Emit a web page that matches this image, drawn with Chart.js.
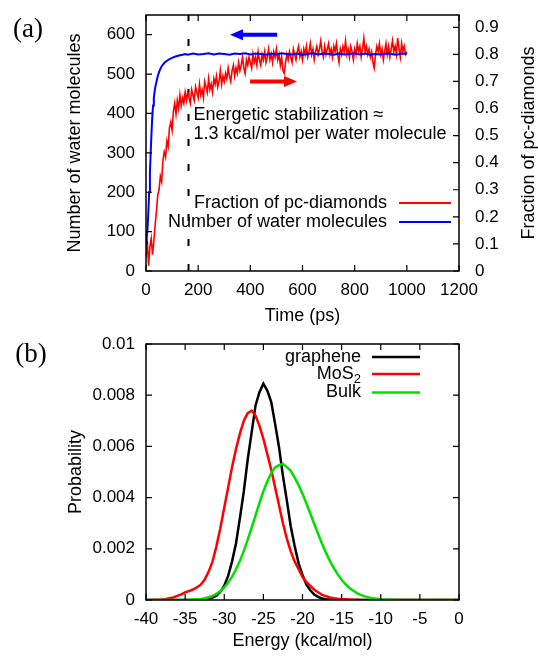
<!DOCTYPE html>
<html>
<head>
<meta charset="utf-8">
<script src="https://cdn.jsdelivr.net/npm/chart.js@4.4.1/dist/chart.umd.min.js"></script>
<style>
  html, body { margin: 0; padding: 0; background: #fff; }
  #wrap { position: relative; width: 538px; height: 656px; }
  canvas { position: absolute; left: 0; }
  #chartA { top: 0; }
  #chartB { top: 330px; }
</style>
</head>
<body>
<div id="wrap">
  <canvas id="chartA" width="538" height="330"></canvas>
  <canvas id="chartB" width="538" height="326"></canvas>
</div>
<script>
// ---- panel (a) data ----
const timeBlue = [0, 3, 6, 9, 12, 15, 18, 21, 24, 27, 30, 35, 40, 45, 50, 55, 60, 70, 80, 90, 100, 110, 120, 130, 140, 150, 160,
  180, 200, 220, 240, 260, 280, 300, 320, 340, 360, 380, 400, 420, 440, 460, 480, 500, 520, 540, 560, 580, 600,
  620, 640, 660, 680, 700, 720, 740, 760, 780, 800, 820, 840, 860, 880, 900, 920, 940, 960, 980, 1000];
const waterCount = [70, 85, 110, 150, 200, 250, 300, 350, 390, 420, 440, 465, 480, 495, 505, 513, 520, 528, 534, 538, 541, 544, 546, 548, 549, 551, 549,
  552, 550, 551, 553, 550, 552, 551, 549, 552, 551, 553, 550, 552, 551, 549, 552, 550, 553, 551, 550, 552, 549,
  551, 553, 550, 552, 551, 549, 552, 550, 551, 553, 550, 552, 549, 551, 550, 552, 551, 549, 552, 551];

const timeRed = [
  0, 5, 10, 15, 20, 25, 30, 35, 40, 45, 50, 55, 60, 65, 70, 75, 80, 85, 90, 95,
  100, 105, 110, 115, 120, 125, 130, 135, 140, 145, 150, 155, 160, 165, 170, 175, 180, 185, 190, 195,
  200, 205, 210, 215, 220, 225, 230, 235, 240, 245, 250, 255, 260, 265, 270, 275, 280, 285, 290, 295,
  300, 305, 310, 315, 320, 325, 330, 335, 340, 345, 350, 355, 360, 365, 370, 375, 380, 385, 390, 395,
  400, 405, 410, 415, 420, 425, 430, 435, 440, 445, 450, 455, 460, 465, 470, 475, 480, 485, 490, 495,
  500, 505, 510, 515, 520, 525, 530, 535, 540, 545, 550, 555, 560, 565, 570, 575, 580, 585, 590, 595,
  600, 605, 610, 615, 620, 625, 630, 635, 640, 645, 650, 655, 660, 665, 670, 675, 680, 685, 690, 695,
  700, 705, 710, 715, 720, 725, 730, 735, 740, 745, 750, 755, 760, 765, 770, 775, 780, 785, 790, 795,
  800, 805, 810, 815, 820, 825, 830, 835, 840, 845, 850, 855, 860, 865, 870, 875, 880, 885, 890, 895,
  900, 905, 910, 915, 920, 925, 930, 935, 940, 945, 950, 955, 960, 965, 970, 975, 980, 985, 990, 995,
  1000];
const fraction = [
  0.05, 0.11, 0.02, 0.09, 0.12, 0.06, 0.11, 0.17, 0.22, 0.28, 0.30, 0.35, 0.33, 0.41, 0.44, 0.42, 0.48, 0.46, 0.53, 0.55,
  0.52, 0.59, 0.62, 0.58, 0.63, 0.60, 0.65, 0.61, 0.64, 0.62, 0.66,
  0.63, 0.66, 0.64, 0.62, 0.67, 0.65, 0.63, 0.68, 0.66, 0.64,
  0.69, 0.65, 0.67, 0.64, 0.70, 0.68, 0.66, 0.71, 0.67, 0.69,
  0.66, 0.71, 0.69, 0.72, 0.68, 0.70, 0.74, 0.69, 0.72, 0.70,
  0.73, 0.71, 0.75, 0.72, 0.70, 0.74, 0.76, 0.72, 0.75, 0.73,
  0.77, 0.74, 0.76, 0.79, 0.75, 0.73, 0.78, 0.76, 0.79, 0.77,
  0.75, 0.80, 0.77, 0.79, 0.76, 0.81, 0.78, 0.76, 0.80, 0.78,
  0.81, 0.77, 0.79, 0.82, 0.78, 0.80, 0.77, 0.81, 0.79, 0.82,
  0.78, 0.80, 0.76, 0.79, 0.74, 0.73, 0.77, 0.80, 0.78, 0.81,
  0.79, 0.77, 0.82, 0.80, 0.78, 0.81, 0.83, 0.79, 0.81, 0.78,
  0.82, 0.80, 0.83, 0.79, 0.81, 0.84, 0.80, 0.82, 0.78, 0.81,
  0.83, 0.80, 0.82, 0.85, 0.81, 0.79, 0.83, 0.80, 0.82, 0.84,
  0.80, 0.82, 0.79, 0.83, 0.81, 0.84, 0.80, 0.77, 0.82, 0.80,
  0.83, 0.81, 0.85, 0.80, 0.82, 0.79, 0.83, 0.81, 0.78, 0.82,
  0.80, 0.84, 0.81, 0.83, 0.79, 0.82, 0.86, 0.81, 0.83, 0.80,
  0.82, 0.79, 0.81, 0.77, 0.75, 0.80, 0.83, 0.81, 0.84, 0.80,
  0.82, 0.78, 0.81, 0.84, 0.80, 0.83, 0.79, 0.82, 0.85, 0.81,
  0.83, 0.80, 0.86, 0.82, 0.79, 0.84, 0.81, 0.83, 0.80, 0.81];

const stabilizationTime = 163;
const timeTicks = [0, 200, 400, 600, 800, 1000, 1200];
const waterTicks = [0, 100, 200, 300, 400, 500, 600];
const fractionTicks = [0, 0.1, 0.2, 0.3, 0.4, 0.5, 0.6, 0.7, 0.8, 0.9];

// ---- panel (b) data ----
const energy = [-40, -39.5, -39, -38.5, -38, -37.5, -37, -36.5, -36, -35.5, -35, -34.5, -34, -33.5, -33, -32.5, -32, -31.5, -31, -30.5,
  -30, -29.5, -29, -28.5, -28, -27.5, -27, -26.5, -26, -25.5, -25, -24.5, -24, -23.5, -23, -22.5, -22, -21.5, -21, -20.5,
  -20, -19.5, -19, -18.5, -18, -17.5, -17, -16.5, -16, -15.5, -15, -14.5, -14, -13.5, -13, -12.5, -12, -11.5, -11, -10.5,
  -10, -9.5, -9, -8.5, -8, -7.5, -7, -6.5, -6, -5.5, -5, -4.5, -4, -3.5, -3, -2.5, -2, -1.5, -1, -0.5, 0];
const graphene = [0, 0, 0, 0, 0, 0, 0, 0, 0, 0, 0, 0, 0, 0,
  0.00001, 0.00002, 0.00004, 0.00009, 0.00017, 0.00032, 0.00056, 0.00094, 0.00151, 0.00221,
  0.00320, 0.00424, 0.00549, 0.00655, 0.00760, 0.00812, 0.00845, 0.00818, 0.00774, 0.00688,
  0.00597, 0.00485, 0.00388, 0.00287, 0.00211, 0.00143, 0.00098, 0.00060, 0.00038, 0.00021,
  0.00012, 0.00006, 0.00003, 0.00002, 0.00001,
  0, 0, 0, 0, 0, 0, 0, 0, 0, 0, 0, 0, 0, 0, 0, 0, 0, 0, 0, 0, 0, 0, 0, 0, 0, 0, 0, 0, 0, 0, 0, 0];
const mos2 = [0, 0, 0.00001, 0.00001, 0.00002, 0.00004, 0.00007, 0.0001, 0.00016, 0.00022,
  0.0003, 0.00035, 0.00041, 0.00049, 0.0006, 0.0008, 0.0011, 0.0015, 0.0021, 0.0028,
  0.0036, 0.0044, 0.0052, 0.0059, 0.0065, 0.0070, 0.0073, 0.0074, 0.0072, 0.0068,
  0.0063, 0.0057, 0.0051, 0.0044, 0.0037, 0.0030, 0.0024, 0.0019, 0.0015, 0.0012,
  0.0009, 0.0007, 0.00055, 0.0004, 0.0003, 0.0002, 0.00015, 0.0001, 0.00007, 0.00005,
  0.00004, 0.00003, 0.00002, 0.00001, 0.00001,
  0, 0, 0, 0, 0, 0, 0, 0, 0, 0, 0, 0, 0, 0, 0, 0, 0, 0, 0, 0, 0, 0, 0, 0, 0, 0];
const bulk = [0, 0, 0, 0, 0, 0, 0, 0, 0, 0,
  0.00001, 0.00001, 0.00002, 0.00003, 0.00004, 0.00007, 0.00011, 0.00016, 0.00024, 0.00035,
  0.00049, 0.00068, 0.00091, 0.00119, 0.00153, 0.00192, 0.00236, 0.00283, 0.00331, 0.00379,
  0.00424, 0.00464, 0.00496, 0.00518, 0.00527, 0.00532, 0.00519, 0.00505, 0.00478, 0.00449,
  0.00415, 0.00377, 0.00338, 0.00297, 0.00258, 0.0022, 0.00185, 0.00153, 0.00125, 0.001,
  0.00079, 0.00062, 0.00047, 0.00036, 0.00026, 0.00019, 0.00014, 0.0001, 0.00007, 0.00005,
  0.00003, 0.00002, 0.00002, 0.00001, 0.00001,
  0, 0, 0, 0, 0, 0, 0, 0, 0, 0, 0, 0, 0, 0, 0, 0];
const energyTicks = [-40, -35, -30, -25, -20, -15, -10, -5, 0];
const probTicks = [0, 0.002, 0.004, 0.006, 0.008, 0.01];

const RED = '#ff0000', BLUE = '#0000ff', GREEN = '#00e000', BLACK = '#000000';
Chart.defaults.font.family = "'Liberation Sans', Arial, sans-serif";
Chart.defaults.color = '#000';

const xy = (xs, ys) => xs.map((x, i) => ({ x: x, y: ys[i] }));
const useTicks = arr => scale => { scale.ticks = arr.map(v => ({ value: v })); };
// fixed axis sizes, no label overflow padding, so the plot box lands where the original has it
const fitX = h => s => { s.height = h; s.paddingLeft = 0; s.paddingRight = 0; };
const fitY = w => s => { s.width = w; s.paddingTop = 0; s.paddingBottom = 0; };

function label(ctx, str, x, y, opt) {
  opt = opt || {};
  ctx.save();
  ctx.font = (opt.size || 18) + 'px ' + (opt.family || "'Liberation Sans', Arial, sans-serif");
  ctx.fillStyle = '#000';
  ctx.textAlign = opt.align || 'center';
  ctx.textBaseline = 'middle';
  ctx.translate(x, y);
  if (opt.rotate) ctx.rotate(opt.rotate);
  ctx.fillText(str, 0, 0);
  ctx.restore();
}

function drawFrame(ctx, a, xs, yl, yr) {
  ctx.save();
  ctx.strokeStyle = '#000';
  ctx.lineWidth = 1.5;
  ctx.strokeRect(a.left, a.top, a.right - a.left, a.bottom - a.top);
  ctx.lineWidth = 1.2;
  ctx.beginPath();
  xs.ticks.forEach(t => {
    const x = xs.getPixelForValue(t.value);
    ctx.moveTo(x, a.bottom); ctx.lineTo(x, a.bottom - 6);
    ctx.moveTo(x, a.top); ctx.lineTo(x, a.top + 6);
  });
  yl.ticks.forEach(t => {
    const y = yl.getPixelForValue(t.value);
    ctx.moveTo(a.left, y); ctx.lineTo(a.left + 6, y);
  });
  yr.ticks.forEach(t => {
    const y = yr.getPixelForValue(t.value);
    ctx.moveTo(a.right, y); ctx.lineTo(a.right - 6, y);
  });
  ctx.stroke();
  ctx.restore();
}

function drawArrow(ctx, x0, y, x1, color) {
  const dir = x1 > x0 ? 1 : -1;
  const head = 13;
  ctx.save();
  ctx.strokeStyle = color;
  ctx.fillStyle = color;
  ctx.lineWidth = 4;
  ctx.beginPath();
  ctx.moveTo(x0, y);
  ctx.lineTo(x1 - dir * head, y);
  ctx.stroke();
  ctx.beginPath();
  ctx.moveTo(x1, y);
  ctx.lineTo(x1 - dir * head, y - 5.5);
  ctx.lineTo(x1 - dir * head, y + 5.5);
  ctx.closePath();
  ctx.fill();
  ctx.restore();
}

function legendRow(ctx, str, color, textRight, lineFrom, lineTo, y, width, sub) {
  ctx.save();
  ctx.font = "18px 'Liberation Sans', Arial, sans-serif";
  ctx.fillStyle = '#000';
  ctx.textBaseline = 'middle';
  ctx.textAlign = 'right';
  if (sub) {
    ctx.font = "13px 'Liberation Sans', Arial, sans-serif";
    const sw = ctx.measureText(sub).width;
    ctx.fillText(sub, textRight, y + 5);
    ctx.font = "18px 'Liberation Sans', Arial, sans-serif";
    ctx.fillText(str, textRight - sw, y);
  } else {
    ctx.fillText(str, textRight, y);
  }
  ctx.strokeStyle = color;
  ctx.lineWidth = width;
  ctx.beginPath();
  ctx.moveTo(lineFrom, y);
  ctx.lineTo(lineTo, y);
  ctx.stroke();
  ctx.restore();
}

const decorA = {
  id: 'decorA',
  afterDraw(chart) {
    const { ctx, chartArea: a, scales } = chart;
    const xs = scales.x, yl = scales.yLeft, yr = scales.yRight;
    drawFrame(ctx, a, xs, yl, yr);
    drawArrow(ctx, xs.getPixelForValue(503), yl.getPixelForValue(600), xs.getPixelForValue(322), BLUE);
    drawArrow(ctx, xs.getPixelForValue(399), yr.getPixelForValue(0.70), xs.getPixelForValue(579), RED);
    label(ctx, 'Energetic stabilization \u2248', xs.getPixelForValue(182), yl.getPixelForValue(395), { align: 'left' });
    label(ctx, '1.3 kcal/mol per water molecule', xs.getPixelForValue(182), yl.getPixelForValue(347), { align: 'left' });
    legendRow(ctx, 'Fraction of pc-diamonds', RED, a.right - 72, a.right - 60, a.right - 8, 203, 2);
    legendRow(ctx, 'Number of water molecules', BLUE, a.right - 72, a.right - 60, a.right - 8, 222, 2);
    const cy = (a.top + a.bottom) / 2;
    label(ctx, 'Number of water molecules', 75, cy, { rotate: -Math.PI / 2 });
    label(ctx, 'Fraction of pc-diamonds', 529, cy, { rotate: -Math.PI / 2 });
    label(ctx, 'Time (ps)', (a.left + a.right) / 2, 316);
    label(ctx, '(a)', 28, 30, { size: 27, family: "'Liberation Serif', 'Times New Roman', serif" });
  }
};

const decorB = {
  id: 'decorB',
  afterDraw(chart) {
    const { ctx, chartArea: a, scales } = chart;
    drawFrame(ctx, a, scales.x, scales.y, scales.y);
    legendRow(ctx, 'graphene', BLACK, a.right - 98, a.right - 87, a.right - 39, 27, 2.5);
    legendRow(ctx, 'MoS', RED, a.right - 98, a.right - 87, a.right - 39, 44, 2.5, '2');
    legendRow(ctx, 'Bulk', GREEN, a.right - 98, a.right - 87, a.right - 39, 62.5, 2.5);
    label(ctx, 'Probability', 76, (a.top + a.bottom) / 2, { rotate: -Math.PI / 2 });
    label(ctx, 'Energy (kcal/mol)', (a.left + a.right) / 2, 311);
    label(ctx, '(b)', 31, 25, { size: 27, family: "'Liberation Serif', 'Times New Roman', serif" });
  }
};

const tickFont = { size: 17 };
const plainGrid = { display: false, drawTicks: false };

new Chart(document.getElementById('chartA'), {
  type: 'line',
  data: {
    datasets: [
      { label: 'Number of water molecules', data: xy(timeBlue, waterCount), yAxisID: 'yLeft',
        borderColor: BLUE, borderWidth: 2, pointRadius: 0, tension: 0, order: 0 },
      { label: 'Fraction of pc-diamonds', data: xy(timeRed, fraction), yAxisID: 'yRight',
        borderColor: RED, borderWidth: 1.6, pointRadius: 0, tension: 0, order: 1 },
      { label: 'stabilization', data: [{ x: stabilizationTime, y: 0 }, { x: stabilizationTime, y: 650 }], yAxisID: 'yLeft',
        borderColor: BLACK, borderWidth: 2, borderDash: [7, 18], pointRadius: 0, order: 2 }
    ]
  },
  options: {
    responsive: false,
    animation: false,
    layout: { padding: { top: 15, left: 0, right: 0, bottom: 0 } },
    plugins: { legend: { display: false }, tooltip: { enabled: false } },
    scales: {
      x: {
        type: 'linear', position: 'bottom', min: 0, max: 1200,
        grid: plainGrid, border: { display: false },
        ticks: { font: tickFont, padding: 9, maxRotation: 0, autoSkip: false, callback: v => String(v) },
        afterBuildTicks: useTicks(timeTicks),
        afterFit: fitX(59)
      },
      yLeft: {
        type: 'linear', position: 'left', min: 0, max: 650,
        grid: plainGrid, border: { display: false },
        ticks: { font: tickFont, padding: 11, autoSkip: false, callback: v => String(v) },
        afterBuildTicks: useTicks(waterTicks),
        afterFit: fitY(146)
      },
      yRight: {
        type: 'linear', position: 'right', min: 0, max: 0.9455,
        grid: plainGrid, border: { display: false },
        ticks: { font: tickFont, padding: 16, autoSkip: false, callback: v => String(v) },
        afterBuildTicks: useTicks(fractionTicks),
        afterFit: fitY(79)
      }
    }
  },
  plugins: [decorA]
});

new Chart(document.getElementById('chartB'), {
  type: 'line',
  data: {
    datasets: [
      { label: 'graphene', data: xy(energy, graphene), borderColor: BLACK, borderWidth: 2.5, pointRadius: 0, tension: 0, order: 2 },
      { label: 'MoS2', data: xy(energy, mos2), borderColor: RED, borderWidth: 2.5, pointRadius: 0, tension: 0, order: 1 },
      { label: 'Bulk', data: xy(energy, bulk), borderColor: GREEN, borderWidth: 2.5, pointRadius: 0, tension: 0, order: 0 }
    ]
  },
  options: {
    responsive: false,
    animation: false,
    layout: { padding: { top: 14, left: 0, right: 79, bottom: 0 } },
    plugins: { legend: { display: false }, tooltip: { enabled: false } },
    scales: {
      x: {
        type: 'linear', position: 'bottom', min: -40, max: 0,
        grid: plainGrid, border: { display: false },
        ticks: { font: tickFont, padding: 9, maxRotation: 0, autoSkip: false, callback: v => String(v) },
        afterBuildTicks: useTicks(energyTicks),
        afterFit: fitX(56)
      },
      y: {
        type: 'linear', position: 'left', min: 0, max: 0.01,
        grid: plainGrid, border: { display: false },
        ticks: { font: tickFont, padding: 11, autoSkip: false, callback: v => String(v) },
        afterBuildTicks: useTicks(probTicks),
        afterFit: fitY(146)
      }
    }
  },
  plugins: [decorB]
});
</script>
</body>
</html>
